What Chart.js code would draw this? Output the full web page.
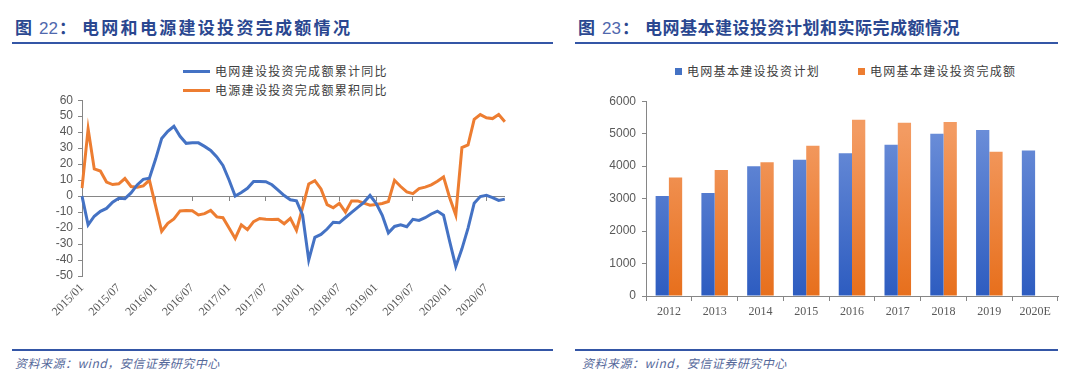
<!DOCTYPE html>
<html lang="zh-CN">
<head>
<meta charset="UTF-8">
<title>电网和电源建设投资</title>
<script src="https://cdn.jsdelivr.net/npm/chart.js"></script>
<style>
	html, body { margin: 0; padding: 0; background: #fff; }
	body { width: 1080px; height: 390px; position: relative; overflow: hidden; font-family: "Noto Sans CJK SC", sans-serif; }
	.title { position: absolute; top: 16px; font-size: 17px; font-weight: 700; color: #2a4790; line-height: 22px; white-space: nowrap; }
	.title .num { font-family: "Liberation Sans", sans-serif; font-weight: 400; color: #5068ad; margin: 0 1px 0 7px; }
	.rule { position: absolute; height: 2px; background: #3456a6; }
	.src { position: absolute; top: 354px; font-size: 12px; font-style: italic; color: #55689a; white-space: nowrap; letter-spacing: 0.5px; }
	.lg { position: absolute; font-size: 12px; color: #404040; white-space: nowrap; letter-spacing: 1.3px; }
	.lg .row { height: 19px; line-height: 19px; }
	.lg .ln { display: inline-block; width: 27px; height: 3px; vertical-align: middle; margin-right: 5px; position: relative; top: -1px; }
	.lg .sq { display: inline-block; width: 7px; height: 7px; vertical-align: middle; margin-right: 5px; position: relative; top: -1px; }
	.box { position: absolute; }
</style>
</head>
<body>
	<div class="title" style="left:15px">图<span class="num">22</span>：</div>
	<div class="title" style="left:82px;letter-spacing:2.3px">电网和电源建设投资完成额情况</div>
	<div class="rule" style="left:12px;top:42px;width:541px"></div>
	<div class="title" style="left:578px">图<span class="num">23</span>：</div>
	<div class="title" style="left:645px;letter-spacing:0.5px">电网基本建设投资计划和实际完成额情况</div>
	<div class="rule" style="left:575px;top:42px;width:483px"></div>

	<div class="lg" style="left:183px;top:61px">
		<div class="row"><span class="ln" style="background:#4472C4"></span>电网建设投资完成额累计同比</div>
		<div class="row"><span class="ln" style="background:#ED7D31"></span>电源建设投资完成额累积同比</div>
	</div>
	<div class="lg" style="left:675px;top:62px">
		<span class="sq" style="background:#4472C4"></span>电网基本建设投资计划<span style="display:inline-block;width:38px"></span><span class="sq" style="background:#ED7D31"></span>电网基本建设投资完成额
	</div>

	<div class="box" style="left:30px;top:88px;width:490px;height:252px"><canvas id="c1" width="490" height="252"></canvas></div>
	<div class="box" style="left:590px;top:88px;width:480px;height:240px"><canvas id="c2" width="480" height="240"></canvas></div>

	<div class="rule" style="left:12px;top:349px;width:541px"></div>
	<div class="rule" style="left:575px;top:349px;width:483px"></div>
	<div class="src" style="left:15px">资料来源：wind，安信证券研究中心</div>
	<div class="src" style="left:582px">资料来源：wind，安信证券研究中心</div>

	<script>
		// 月份 2015/01 - 2020/10
		const months = [];
		for (let y = 2015; y <= 2020; y++) {
			for (let m = 1; m <= 12; m++) {
				if (y === 2020 && m > 10) break;
				months.push(y + '/' + String(m).padStart(2, '0'));
			}
		}

		// 电网建设投资完成额累计同比 (%)
		const gridYoY = [0, -18, -12.6, -9.5, -7.7, -3.8, -1.4, -1.6, 2, 7,
			10.5, 11.2, 23, 36, 40.5, 43.7, 37.4, 33, 33.3, 33.3,
			31.1, 28.6, 24.5, 19.2, 10.1, 0, 2.2, 4.9, 9.2, 9.2,
			9, 7.1, 3.8, 0.3, -2.3, -3, -12, -40, -25.8, -24,
			-20.6, -16.4, -16.7, -13.4, -10.2, -7.1, -3.9, 0.4, -4.5, -12,
			-23, -19, -18, -19.2, -14.5, -15.2, -13.5, -11.2, -9.4, -12,
			-28.3, -44, -33, -20, -4.4, -0.3, 0.5, -0.9, -2.7, -1.9];

		// 电源建设投资完成额累积同比 (%)
		const powerYoY = [5, 42, 17, 15.7, 8.8, 7.2, 7.7, 11, 6, 5.5,
			6.4, 10, -6, -22, -17, -14.3, -9.3, -9, -9.2, -11.8,
			-11, -9, -13, -13.5, -20, -26.5, -18, -21, -16, -14,
			-14.5, -14.7, -14.5, -17.3, -13.9, -21.4, -7, 7.6, 9.7, 4.5,
			-5.3, -7.3, -4.5, -10, -3, -3, -4.4, -5.7, -5.2, -4.6,
			-3.4, 9.9, 6, 2.6, 1.5, 4.7, 5.6, 7, 9.3, 12,
			-1, -11.8, 30.4, 32, 48, 51, 49, 48.5, 51, 46.5];

		const yoyTicks = { min: -50, max: 60, step: 10 };

		// 电网基本建设投资 (亿元)
		const years = ['2012', '2013', '2014', '2015', '2016', '2017', '2018', '2019', '2020E'];
		const planInvest = [3080, 3170, 4000, 4200, 4400, 4660, 5000, 5110, 4480];
		const actualInvest = [3650, 3880, 4120, 4630, 5430, 5340, 5360, 4440, null];

		const axisGray = '#868686';
		const tickGray = '#595959';

		const isHalfYear = i => /\/(01|07)$/.test(months[i]);

		new Chart(document.getElementById('c1'), {
			type: 'line',
			data: {
				labels: months,
				datasets: [
					{ label: '电网建设投资完成额累计同比', data: gridYoY, borderColor: '#4472C4', borderWidth: 3, pointRadius: 0, tension: 0 },
					{ label: '电源建设投资完成额累积同比', data: powerYoY, borderColor: '#ED7D31', borderWidth: 3, pointRadius: 0, tension: 0 }
				]
			},
			options: {
				responsive: false,
				animation: false,
				layout: { padding: { top: 8, right: 13, bottom: 0, left: 0 } },
				plugins: { legend: { display: false }, tooltip: { enabled: false } },
				scales: {
					x: {
						grid: { display: false, drawTicks: false },
						border: { display: false },
						ticks: {
							autoSkip: false, minRotation: 45, maxRotation: 45, padding: 5,
							color: tickGray, font: { family: 'Liberation Serif', size: 12 },
							callback: (v, i) => isHalfYear(i) ? months[i] : ''
						},
						afterFit: s => { s.height = 64; }
					},
					x0: {
						type: 'category',
						position: { y: 0 },
						ticks: { display: false, autoSkip: false },
						grid: { drawOnChartArea: false, tickLength: 4, color: c => isHalfYear(c.index) ? axisGray : 'rgba(0,0,0,0)' },
						border: { color: axisGray, width: 1 }
					},
					y: {
						min: yoyTicks.min, max: yoyTicks.max,
						ticks: { stepSize: yoyTicks.step, autoSkip: false, padding: 5, color: tickGray, font: { family: 'Liberation Sans', size: 12 } },
						grid: { drawOnChartArea: false, tickLength: 4, color: axisGray },
						border: { color: axisGray },
						afterFit: s => { s.width = 52; }
					}
				}
			}
		});

		function barGradient(top, bottom) {
			return ctx => {
				const { chart } = ctx;
				const area = chart.chartArea;
				if (!area) return bottom;
				const g = chart.ctx.createLinearGradient(0, area.top + 30, 0, area.bottom);
				g.addColorStop(0, top);
				g.addColorStop(1, bottom);
				return g;
			};
		}

		new Chart(document.getElementById('c2'), {
			type: 'bar',
			data: {
				labels: years,
				datasets: [
					{ label: '电网基本建设投资计划', data: planInvest, backgroundColor: barGradient('#6a8dd8', '#2d5cc0') },
					{ label: '电网基本建设投资完成额', data: actualInvest, backgroundColor: barGradient('#f39b62', '#e76f1c') }
				]
			},
			options: {
				responsive: false,
				animation: false,
				layout: { padding: { top: 7, right: 12, bottom: 0, left: 0 } },
				datasets: { bar: { categoryPercentage: 0.58, barPercentage: 1 } },
				plugins: { legend: { display: false }, tooltip: { enabled: false } },
				scales: {
					x: {
						grid: { drawOnChartArea: false, tickLength: 5, color: axisGray },
						border: { color: axisGray },
						ticks: { padding: 4, color: tickGray, font: { family: 'Liberation Serif', size: 12 } },
						afterFit: s => { s.height = 32; }
					},
					y: {
						min: 0, max: 6000,
						ticks: { stepSize: 1000, autoSkip: false, padding: 6, color: tickGray, font: { family: 'Liberation Sans', size: 12 }, callback: v => String(v) },
						grid: { drawOnChartArea: false, tickLength: 4, color: axisGray },
						border: { color: axisGray },
						afterFit: s => { s.width = 56; }
					}
				}
			}
		});
	</script>
</body>
</html>
